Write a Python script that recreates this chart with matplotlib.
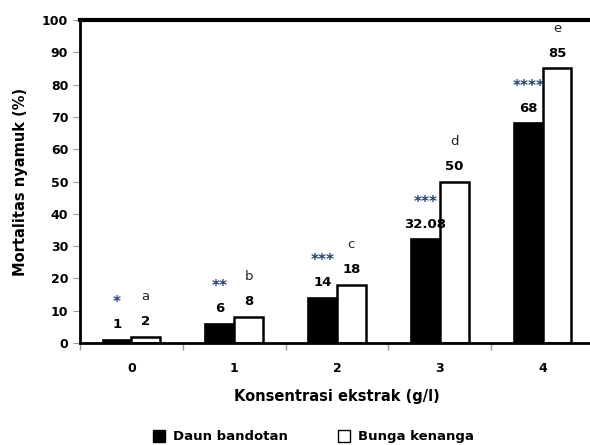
import matplotlib.pyplot as plt
import numpy as np
from matplotlib.lines import Line2D

# data
konsentrasi = ['0', '1', '2', '3', '4']
daun_bandotan = [1, 6, 14, 32.08, 68]
bunga_kenanga = [2, 8, 18, 50, 85]
label_bandotan = ['1', '6', '14', '32.08', '68']
label_kenanga = ['2', '8', '18', '50', '85']
notasi_bandotan = ['*', '**', '***', '***', '****']
notasi_kenanga = ['a', 'b', 'c', 'd', 'e']

plt.rcParams['font.family'] = ['DejaVu Sans']
plt.rcParams['font.weight'] = 'bold'

fig = plt.figure(figsize=(5.9, 4.45), dpi=100)
ax = fig.add_axes([0.1356, 0.2292, 0.8712, 0.7258])

x = np.arange(len(konsentrasi))
w = 0.28
ax.bar(x - w / 2, daun_bandotan, w, color='black', edgecolor='black', linewidth=1.2)
ax.bar(x + w / 2, bunga_kenanga, w, color='white', edgecolor='black', linewidth=1.8)

# angka di atas batang + notasi
for i in range(len(konsentrasi)):
    ax.text(x[i] - w / 2, daun_bandotan[i] + 4.7, label_bandotan[i], ha='center', va='center',
            fontsize=9.5, fontweight='bold', color='black')
    ax.text(x[i] + w / 2, bunga_kenanga[i] + 4.7, label_kenanga[i], ha='center', va='center',
            fontsize=9.5, fontweight='bold', color='black')
    ax.text(x[i] - w / 2, daun_bandotan[i] + 11.5, notasi_bandotan[i], ha='center', va='center',
            fontsize=11, fontweight='bold', color='#1F3F77')
    ax.text(x[i] + w / 2, bunga_kenanga[i] + 12.5, notasi_kenanga[i], ha='center', va='center',
            fontsize=9.5, fontweight='normal', color='#222222')

ax.set_ylim(0, 100)
ax.set_yticks(range(0, 101, 10))
ax.set_xlim(-0.5, len(konsentrasi) - 0.5)
ax.set_xticks(x)
ax.set_xticklabels(konsentrasi)
ax.set_xticks(np.arange(-0.5, len(konsentrasi), 1), minor=True)
ax.tick_params(axis='x', which='major', length=0, pad=14, labelsize=9)
ax.tick_params(axis='x', which='minor', length=5, color='#999999', width=1)
ax.tick_params(axis='y', length=5, color='#999999', labelsize=9)
for lbl in ax.get_xticklabels() + ax.get_yticklabels():
    lbl.set_fontweight('bold')

ax.spines['right'].set_visible(False)
ax.spines['top'].set_linewidth(3)
ax.spines['left'].set_linewidth(2)
ax.spines['bottom'].set_linewidth(2)

ax.set_xlabel('Konsentrasi ekstrak (g/l)', fontsize=10.5, fontweight='bold', labelpad=10)
ax.set_ylabel('Mortalitas nyamuk (%)', fontsize=10.5, fontweight='bold', labelpad=10)

handles = [Line2D([], [], marker='s', linestyle='none', markerfacecolor='black',
                  markeredgecolor='black', markersize=8),
           Line2D([], [], marker='s', linestyle='none', markerfacecolor='white',
                  markeredgecolor='black', markersize=8)]
fig.legend(handles, ['Daun bandotan', 'Bunga kenanga'], loc='center', ncol=2,
           bbox_to_anchor=(0.525, 0.018), frameon=False,
           handletextpad=0.1, columnspacing=3.2, prop={'weight': 'bold', 'size': 9.5})

fig.savefig('out.png', dpi=100)
